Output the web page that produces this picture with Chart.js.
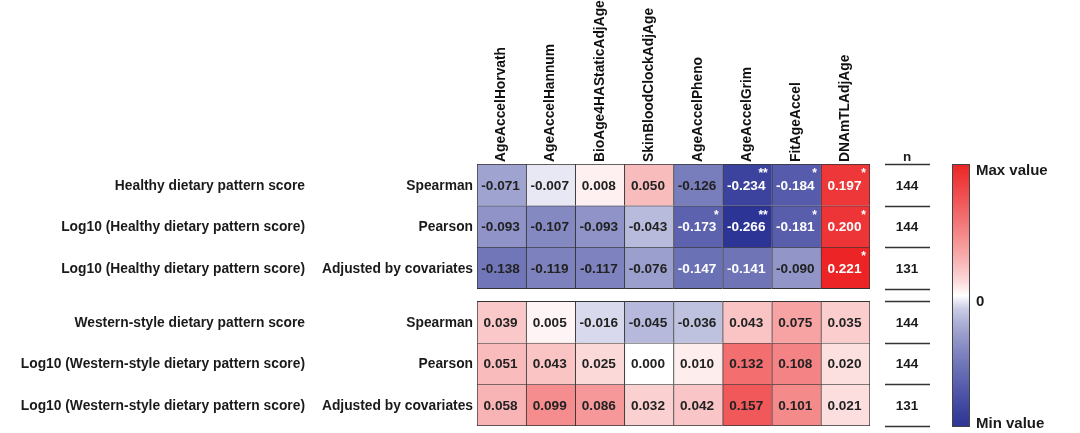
<!DOCTYPE html>
<html>
<head>
<meta charset="utf-8">
<script src="https://cdn.jsdelivr.net/npm/chart.js@4/dist/chart.umd.min.js"></script>
<style>
  html, body { margin: 0; padding: 0; background: #fff; }
  #wrap { width: 1080px; height: 433px; position: relative; }
</style>
</head>
<body>
<div id="wrap"><canvas id="heatChart"></canvas></div>
<script>
const columns = ['AgeAccelHorvath', 'AgeAccelHannum', 'BioAge4HAStaticAdjAge', 'SkinBloodClockAdjAge',
  'AgeAccelPheno', 'AgeAccelGrim', 'FitAgeAccel', 'DNAmTLAdjAge'];

const groupLabels = ['Healthy dietary pattern score', 'Log10 (Healthy dietary pattern score)',
  'Log10 (Healthy dietary pattern score)', 'Western-style dietary pattern score',
  'Log10 (Western-style dietary pattern score)', 'Log10 (Western-style dietary pattern score)'];
const methodLabels = ['Spearman', 'Pearson', 'Adjusted by covariates', 'Spearman', 'Pearson', 'Adjusted by covariates'];

const healthySpearman = [-0.071, -0.007, 0.008, 0.050, -0.126, -0.234, -0.184, 0.197];
const healthyPearson = [-0.093, -0.107, -0.093, -0.043, -0.173, -0.266, -0.181, 0.200];
const healthyAdjusted = [-0.138, -0.119, -0.117, -0.076, -0.147, -0.141, -0.090, 0.221];
const westernSpearman = [0.039, 0.005, -0.016, -0.045, -0.036, 0.043, 0.075, 0.035];
const westernPearson = [0.051, 0.043, 0.025, 0.000, 0.010, 0.132, 0.108, 0.020];
const westernAdjusted = [0.058, 0.099, 0.086, 0.032, 0.042, 0.157, 0.101, 0.021];

const healthySpearmanSig = ['', '', '', '', '', '**', '*', '*'];
const healthyPearsonSig = ['', '', '', '', '*', '**', '*', '*'];
const healthyAdjustedSig = ['', '', '', '', '', '', '', '*'];
const noSig = ['', '', '', '', '', '', '', ''];

const nValues = [144, 144, 131, 144, 144, 131];

const rowValues = [healthySpearman, healthyPearson, healthyAdjusted, westernSpearman, westernPearson, westernAdjusted];
const rowStars = [healthySpearmanSig, healthyPearsonSig, healthyAdjustedSig, noSig, noSig, noSig];

// colour ramp: blue (min) - white (0) - red (max)
const minValue = -0.266, maxValue = 0.221;
const blue = [44, 52, 150], red = [236, 36, 38];
function cellRGB(v) {
  let t, c;
  if (v < 0) { t = Math.pow(v / minValue, 0.6); c = blue; }
  else { t = Math.pow(v / maxValue, 0.8); c = red; }
  return c.map(k => Math.round(255 + (k - 255) * t));
}
function cellColor(v) {
  return 'rgb(' + cellRGB(v).join(',') + ')';
}
// white text on the darkest cells
const whiteText = v => v <= -0.14 || v >= 0.19;

const GAP = 0.3;
const rowStart = r => r + (r >= 3 ? GAP : 0);

const datasets = rowValues.map((vals, r) => ({
  label: methodLabels[r],
  data: vals.map(() => [rowStart(r), rowStart(r) + 1]),
  backgroundColor: vals.map(cellColor),
  borderColor: '#333333',
  borderWidth: ctx => ({ left: 1, top: 1, right: ctx.dataIndex === 7 ? 1 : 0, bottom: (r === 2 || r === 5) ? 1 : 0 }),
  borderSkipped: false,
  grouped: false,
  barPercentage: 1,
  categoryPercentage: 1
}));

const FONT = '"Liberation Sans", Arial, sans-serif';

const heatLabels = {
  id: 'heatLabels',
  afterDatasetsDraw(chart) {
    const { ctx, chartArea, scales: { x, y } } = chart;
    ctx.save();

    rowValues.forEach((vals, r) => {
      const meta = chart.getDatasetMeta(r);
      meta.data.forEach((bar, i) => {
        const top = Math.min(bar.y, bar.base), bottom = Math.max(bar.y, bar.base);
        const right = bar.x + bar.width / 2;
        ctx.fillStyle = whiteText(vals[i]) ? '#ffffff' : '#222222';
        ctx.font = 'bold 13.6px ' + FONT;
        ctx.textAlign = 'center';
        ctx.textBaseline = 'middle';
        ctx.fillText(vals[i].toFixed(3), bar.x - 1, (top + bottom) / 2 + 1);
        if (rowStars[r][i]) {
          ctx.fillStyle = '#ffffff';
          ctx.textAlign = 'right';
          ctx.textBaseline = 'top';
          ctx.font = 'bold 12px ' + FONT;
          ctx.fillText(rowStars[r][i], right - 4, top + 4);
        }
      });

      // row labels
      const cy = y.getPixelForValue(rowStart(r) + 0.5) + 1;
      ctx.fillStyle = '#1a1a1a';
      ctx.font = 'bold 13.8px ' + FONT;
      ctx.textAlign = 'right';
      ctx.textBaseline = 'middle';
      ctx.fillText(groupLabels[r], 305, cy);
      ctx.fillText(methodLabels[r], chartArea.left - 4, cy);

      // n values
      ctx.font = 'bold 13.5px ' + FONT;
      ctx.textAlign = 'center';
      ctx.fillText(String(nValues[r]), chartArea.right + 37, cy);
    });

    // column labels
    columns.forEach((name, i) => {
      const px = x.getPixelForValue(i);
      ctx.save();
      ctx.translate(px, chartArea.top - 2);
      ctx.rotate(-Math.PI / 2);
      ctx.fillStyle = '#111111';
      ctx.font = 'bold 13.8px ' + FONT;
      ctx.textAlign = 'left';
      ctx.textBaseline = 'middle';
      ctx.fillText(name, 0, 0);
      ctx.restore();
    });

    // n column
    const nx0 = chartArea.right + 15, nx1 = chartArea.right + 60;
    ctx.fillStyle = '#1a1a1a';
    ctx.font = 'bold 13.5px ' + FONT;
    ctx.textAlign = 'center';
    ctx.textBaseline = 'middle';
    ctx.fillText('n', chartArea.right + 37, chartArea.top - 7);
    ctx.strokeStyle = '#333333';
    ctx.lineWidth = 1.3;
    const bounds = [0, 1, 2, 3, 3 + GAP, 4 + GAP, 5 + GAP, 6 + GAP];
    bounds.forEach(b => {
      const py = Math.round(y.getPixelForValue(b)) + 0.5;
      ctx.beginPath();
      ctx.moveTo(nx0, py);
      ctx.lineTo(nx1, py);
      ctx.stroke();
    });

    // colour bar
    const bx = chartArea.right + 82, bw = 18;
    const by0 = chartArea.top, by1 = chartArea.bottom + 1;
    const grad = ctx.createLinearGradient(0, by0, 0, by1);
    for (let k = 0; k <= 20; k++) {
      const f = k / 20;
      const v = f < 0.5 ? maxValue * (1 - f / 0.5) : minValue * ((f - 0.5) / 0.5);
      grad.addColorStop(f, cellColor(v));
    }
    ctx.fillStyle = grad;
    ctx.fillRect(bx, by0, bw, by1 - by0);
    ctx.strokeStyle = '#444444';
    ctx.lineWidth = 1;
    ctx.strokeRect(bx + 0.5, by0 + 0.5, bw - 1, by1 - by0 - 1);

    ctx.fillStyle = '#1a1a1a';
    ctx.font = 'bold 15px ' + FONT;
    ctx.textAlign = 'left';
    ctx.textBaseline = 'middle';
    ctx.fillText('Max value', bx + bw + 6, by0 + 7);
    ctx.fillText('0', bx + bw + 6, (by0 + by1) / 2 + 6);
    ctx.fillText('Min value', bx + bw + 6, by1 - 3);

    ctx.restore();
  }
};

new Chart(document.getElementById('heatChart'), {
  type: 'bar',
  data: { labels: columns, datasets: datasets },
  options: {
    responsive: true,
    maintainAspectRatio: false,
    animation: false,
    layout: { padding: { left: 477, right: 210, top: 164, bottom: 7 } },
    scales: {
      x: { type: 'category', display: false, offset: true, grid: { display: false } },
      y: { type: 'linear', display: false, reverse: true, min: 0, max: 6 + GAP }
    },
    plugins: {
      legend: { display: false },
      tooltip: { enabled: false }
    }
  },
  plugins: [heatLabels]
});
</script>
</body>
</html>
